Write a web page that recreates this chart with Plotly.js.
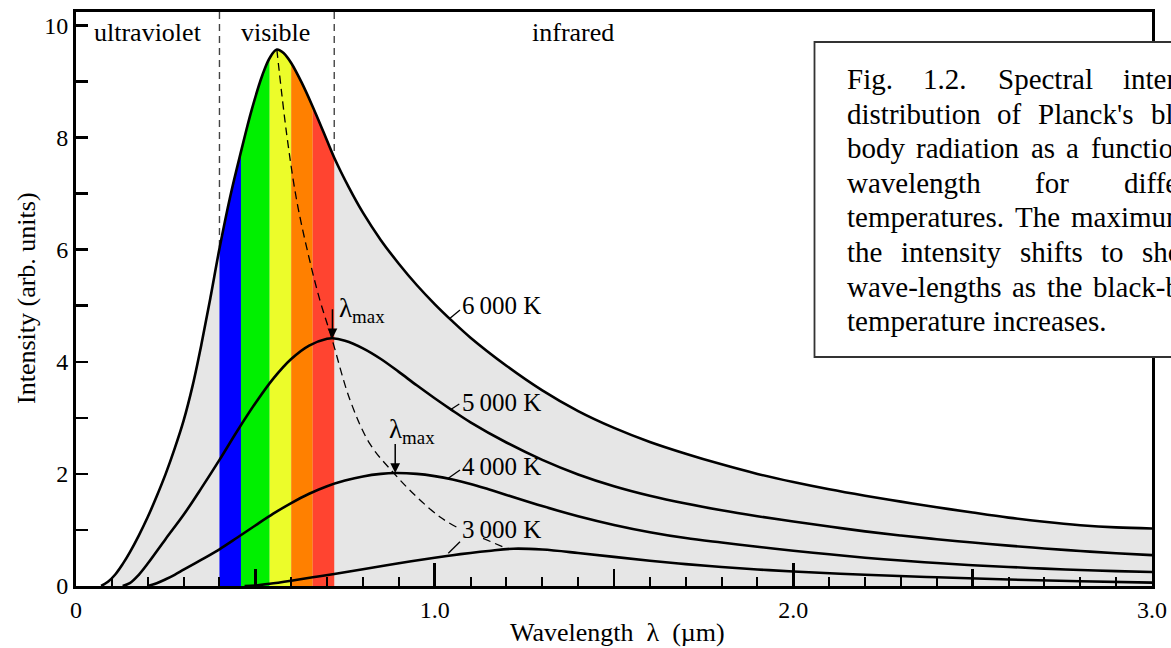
<!DOCTYPE html>
<html><head><meta charset="utf-8">
<script src="https://cdn.plot.ly/plotly-3.0.1.min.js"></script>
<style>html,body{margin:0;padding:0;background:#fff;overflow:hidden}#chart{width:1171px;height:648px}</style>
</head><body><div id="chart"></div>
<script>
// ---------- data ----------
const lambda6000 = [0.07,0.09,0.11,0.13,0.15,0.175,0.20,0.225,0.25,0.275,0.30,0.325,0.35,0.375,0.40,0.43,0.46,0.49,0.52,0.54,0.56,0.58,0.60,0.63,0.66,0.69,0.72,0.76,0.80,0.85,0.90,0.95,1.00,1.05,1.10,1.20,1.30,1.40,1.50,1.60,1.70,1.80,1.90,2.00,2.10,2.20,2.30,2.40,2.50,2.60,2.70,2.80,2.90,3.00];
const intensity6000 = [0,0.08,0.21,0.39,0.6,0.9,1.23,1.6,2.0,2.45,2.95,3.57,4.32,5.15,6.02,6.95,7.75,8.5,9.12,9.42,9.57,9.5,9.33,8.97,8.55,8.1,7.64,7.12,6.66,6.17,5.75,5.37,5.03,4.72,4.43,3.93,3.49,3.12,2.82,2.57,2.36,2.17,2.0,1.855,1.725,1.61,1.505,1.405,1.31,1.22,1.145,1.085,1.045,1.025];

const lambda5000 = [0.13,0.15,0.175,0.20,0.25,0.30,0.35,0.40,0.45,0.50,0.55,0.60,0.65,0.70,0.715,0.75,0.80,0.85,0.90,0.95,1.00,1.05,1.10,1.20,1.30,1.40,1.50,1.60,1.70,1.80,1.90,2.00,2.10,2.20,2.30,2.40,2.50,2.60,2.70,2.80,2.90,3.00];
const intensity5000 = [0,0.05,0.2,0.4,0.84,1.27,1.75,2.25,2.77,3.26,3.7,4.05,4.29,4.41,4.42,4.375,4.24,4.05,3.82,3.58,3.35,3.13,2.92,2.56,2.25,1.99,1.78,1.61,1.47,1.35,1.245,1.15,1.06,0.975,0.9,0.835,0.775,0.72,0.67,0.625,0.585,0.55];

const lambda4000 = [0.20,0.225,0.25,0.275,0.30,0.35,0.40,0.45,0.50,0.55,0.60,0.65,0.70,0.75,0.80,0.85,0.89,0.95,1.00,1.05,1.10,1.15,1.20,1.30,1.40,1.50,1.60,1.70,1.80,1.90,2.00,2.10,2.20,2.30,2.40,2.50,2.60,2.70,2.80,2.90,3.00];
const intensity4000 = [0,0.05,0.12,0.2,0.29,0.47,0.655,0.865,1.08,1.29,1.48,1.645,1.78,1.88,1.955,2.0,2.015,2.0,1.96,1.9,1.82,1.725,1.625,1.425,1.245,1.09,0.96,0.855,0.775,0.7,0.63,0.565,0.505,0.455,0.41,0.37,0.34,0.31,0.285,0.265,0.25];

const lambda3000 = [0.47,0.50,0.54,0.60,0.66,0.72,0.80,0.90,1.00,1.05,1.10,1.15,1.22,1.30,1.40,1.50,1.60,1.70,1.80,1.90,2.00,2.20,2.40,2.60,2.80,3.00];
const intensity3000 = [0,0.01,0.04,0.095,0.155,0.215,0.3,0.405,0.505,0.55,0.59,0.625,0.665,0.65,0.59,0.52,0.45,0.39,0.34,0.295,0.26,0.2,0.155,0.115,0.085,0.06];

// locus of the maxima (dashed), gap where the "3 000 K" label sits
const lambdaMaxLocus = [0.56,0.587,0.615,0.65,0.68,0.713,0.764,0.819,0.885,0.95,1.015,1.061,null,1.135,1.2];
const intensityMaxLocus = [9.57,8.08,6.89,5.85,5.1,4.42,3.32,2.54,2.02,1.59,1.23,1.05,null,0.85,0.67];

// visible spectrum bands (µm)
const bandEdges = [0.40,0.46,0.54,0.60,0.66,0.72];
const bandNames = ['blue','green','yellow','orange','red'];

const regionLabels = ['ultraviolet','visible','infrared'];
const curveLabels = ['6\u2009000 K','5\u2009000 K','4\u2009000 K','3\u2009000 K'];
const xTickVals = [0,1,2,3];
const xTickText = ['0','1.0','2.0','3.0'];

const captionLines = [
  "Fig. 1.2. Spectral intensity",
  "distribution of Planck's black-",
  "body radiation as a function of",
  "wavelength for different",
  "temperatures. The maximum of",
  "the intensity shifts to shorter",
  "wave-lengths as the black-body",
  "temperature increases."
];

// ---------- styles / layout ----------
const SERIF = '"Liberation Serif", "Times New Roman", Times, serif';
const bandColors = ['#0000ff','#00f000','#ecfc2a','#ff8000','#ff4430'];
const GRAY = '#e6e6e6';
const Y_TOP = 10.24;
const ML = 76, MR = 19, MT = 12, MB = 62, W = 1171, H = 648;
const PW = W - ML - MR, PH = H - MT - MB;
const pxX = px => (px - ML) / PW;            // pixel -> paper x
const pxY = py => (H - MB - py) / PH;        // pixel -> paper y
const dX = px => (px - ML) / PW * 3;         // pixel -> data x
const dY = py => (H - MB - py) / PH * Y_TOP; // pixel -> data y

const traces = [];
// gray area under the 6000 K curve
traces.push({x: lambda6000, y: intensity6000, mode:'lines', fill:'tozeroy', fillcolor: GRAY,
  line:{width:0, shape:'spline'}, hoverinfo:'skip'});
// coloured bands
for (let i = 0; i < bandEdges.length - 1; i++) {
  const xs = [], ys = [];
  lambda6000.forEach((l, k) => { if (l >= bandEdges[i] - 1e-9 && l <= bandEdges[i+1] + 1e-9) { xs.push(l); ys.push(intensity6000[k]); } });
  traces.push({x: xs, y: ys, mode:'lines', fill:'tozeroy', fillcolor: bandColors[i], name: bandNames[i],
    line:{width:0, shape:'spline'}, hoverinfo:'skip'});
}
// vertical dashed lines bounding the visible region
[bandEdges[0], bandEdges[bandEdges.length-1]].forEach(e => {
  const k = lambda6000.findIndex(l => Math.abs(l - e) < 1e-9);
  traces.push({x:[e, e], y:[Y_TOP, intensity6000[k]], mode:'lines',
    line:{color:'#444', width:1.4, dash:'7px,5px'}, hoverinfo:'skip'});
});
// black curves
[[lambda3000,intensity3000],[lambda4000,intensity4000],[lambda5000,intensity5000],[lambda6000,intensity6000]].forEach(([x,y]) => {
  traces.push({x, y, mode:'lines', line:{color:'#000', width:2.6, shape:'spline'}, hoverinfo:'skip'});
});
// locus of maxima
traces.push({x: lambdaMaxLocus, y: intensityMaxLocus, mode:'lines', connectgaps:false,
  line:{color:'#000', width:1.3, dash:'8px,5px', shape:'spline'}, hoverinfo:'skip'});
// carrier for the mid-length ticks axis
traces.push({x:[], y:[], xaxis:'x2', mode:'lines', hoverinfo:'skip'});

const peak = (lx, ly) => { const k = ly.indexOf(Math.max(...ly)); return [lx[k], ly[k]]; };
const p5000 = peak(lambda5000, intensity5000);
const p4000 = peak(lambda4000, intensity4000);

const annotations = [];
// axis titles
annotations.push({text:'Intensity (arb. units)', textangle:-90, xref:'paper', yref:'paper', x:pxX(26), y:pxY(298),
  xanchor:'center', yanchor:'middle', showarrow:false, font:{family:SERIF, size:26, color:'#000'}});
annotations.push({text:'Wavelength\u2002λ\u2002(µm)', xref:'paper', yref:'paper', x:pxX(617.5), y:pxY(632),
  xanchor:'center', yanchor:'middle', showarrow:false, font:{family:SERIF, size:26, color:'#000'}});
// region labels
const regionPx = [148, 275, 573.3];
regionLabels.forEach((t, i) => annotations.push({text:t, xref:'x', yref:'paper', x:dX(regionPx[i]), y:pxY(32),
  xanchor:'center', yanchor:'middle', showarrow:false, font:{family:SERIF, size:26, color:'#000'}}));
// curve labels
const labelPy = [305.5, 402.5, 466, 529];
curveLabels.forEach((t, i) => annotations.push({text:t, xref:'x', yref:'y', x:dX(460), y:dY(labelPy[i]),
  xanchor:'left', yanchor:'middle', showarrow:false, font:{family:SERIF, size:25, color:'#000'}}));
// lambda max arrows + labels
[[p5000, 337, 310], [p4000, 387, 431]].forEach(([p, tx, ty]) => {
  annotations.push({text:' ', x:p[0], y:p[1], xref:'x', yref:'y', ax:0, ay:-31, showarrow:true,
    arrowhead:2, arrowsize:1.3, arrowwidth:1.5, arrowcolor:'#000', standoff:0, font:{size:1}});
  annotations.push({text:'λ<sub>max</sub>', xref:'x', yref:'y', x:dX(tx), y:dY(ty),
    xanchor:'left', yanchor:'middle', showarrow:false, font:{family:SERIF, size:27, color:'#000'}});
});
// caption, justified
const ctx = document.createElement('canvas').getContext('2d');
const CAP_SIZE = 29;
ctx.font = CAP_SIZE + 'px "Liberation Serif"';
const CAP_LEFT = 846, CAP_WIDTH = 376, CAP_TOP = 79, CAP_STEP = 34.6;
captionLines.forEach((line, i) => {
  const py = CAP_TOP + i * CAP_STEP;
  const words = line.split(' ');
  const widths = words.map(w => ctx.measureText(w).width);
  const total = widths.reduce((a, b) => a + b, 0);
  const last = i === captionLines.length - 1;
  const gap = last ? ctx.measureText(' ').width : (CAP_WIDTH - total) / (words.length - 1);
  let x = CAP_LEFT;
  words.forEach((w, k) => {
    annotations.push({text:w, xref:'paper', yref:'paper', x:pxX(x), y:pxY(py), xanchor:'left', yanchor:'middle',
      showarrow:false, borderpad:0, font:{family:SERIF, size:CAP_SIZE, color:'#000'}});
    x += widths[k] + gap;
  });
});

const shapes = [];
// leader lines from curves to labels
[[450,318.3,460,310],[450,410,459.3,404],[448.3,478.3,460,470],[448.3,553.3,460,541.7]].forEach(([x0,y0,x1,y1]) =>
  shapes.push({type:'line', xref:'x', yref:'y', x0:dX(x0), y0:dY(y0), x1:dX(x1), y1:dY(y1), line:{color:'#000', width:1.3}}));
// caption box
shapes.push({type:'rect', xref:'paper', yref:'paper', x0:pxX(814.5), x1:1.4, y0:pxY(357), y1:pxY(42),
  fillcolor:'#fff', line:{color:'#333', width:1.8}, layer:'above'});

const layout = {
  width:W, height:H, margin:{l:ML, r:MR, t:MT, b:MB, pad:0},
  paper_bgcolor:'#fff', plot_bgcolor:'#fff', showlegend:false,
  font:{family:SERIF, size:24, color:'#000'},
  xaxis:{range:[0,3], tickmode:'array', tickvals:xTickVals, ticktext:xTickText, ticks:'inside', ticklen:23, tickwidth:2.5,
    tickcolor:'#000', showline:true, linewidth:3, linecolor:'#000', mirror:true, showgrid:false, zeroline:false,
    tickfont:{family:SERIF, size:24, color:'#000'},
    minor:{tickmode:'linear', tick0:0, dtick:0.1, ticks:'inside', ticklen:9, tickwidth:2, tickcolor:'#000', showgrid:false}},
  xaxis2:{overlaying:'x', anchor:'y', side:'bottom', range:[0,3], tickmode:'array', tickvals:[0.5,1.5,2.5],
    ticks:'inside', ticklen:17, tickwidth:2.5, tickcolor:'#000', showticklabels:false, showline:false, showgrid:false, zeroline:false},
  yaxis:{range:[0,Y_TOP], tickmode:'linear', tick0:0, dtick:2, ticks:'inside', ticklen:12, tickwidth:2.5, tickcolor:'#000',
    showline:true, linewidth:3, linecolor:'#000', mirror:true, showgrid:false, zeroline:false,
    tickfont:{family:SERIF, size:24, color:'#000'},
    minor:{tickmode:'linear', tick0:0, dtick:1, ticks:'inside', ticklen:12, tickwidth:2.5, tickcolor:'#000', showgrid:false}},
  shapes, annotations
};

Plotly.newPlot('chart', traces, layout, {staticPlot:true, displayModeBar:false});
</script>
</body></html>
